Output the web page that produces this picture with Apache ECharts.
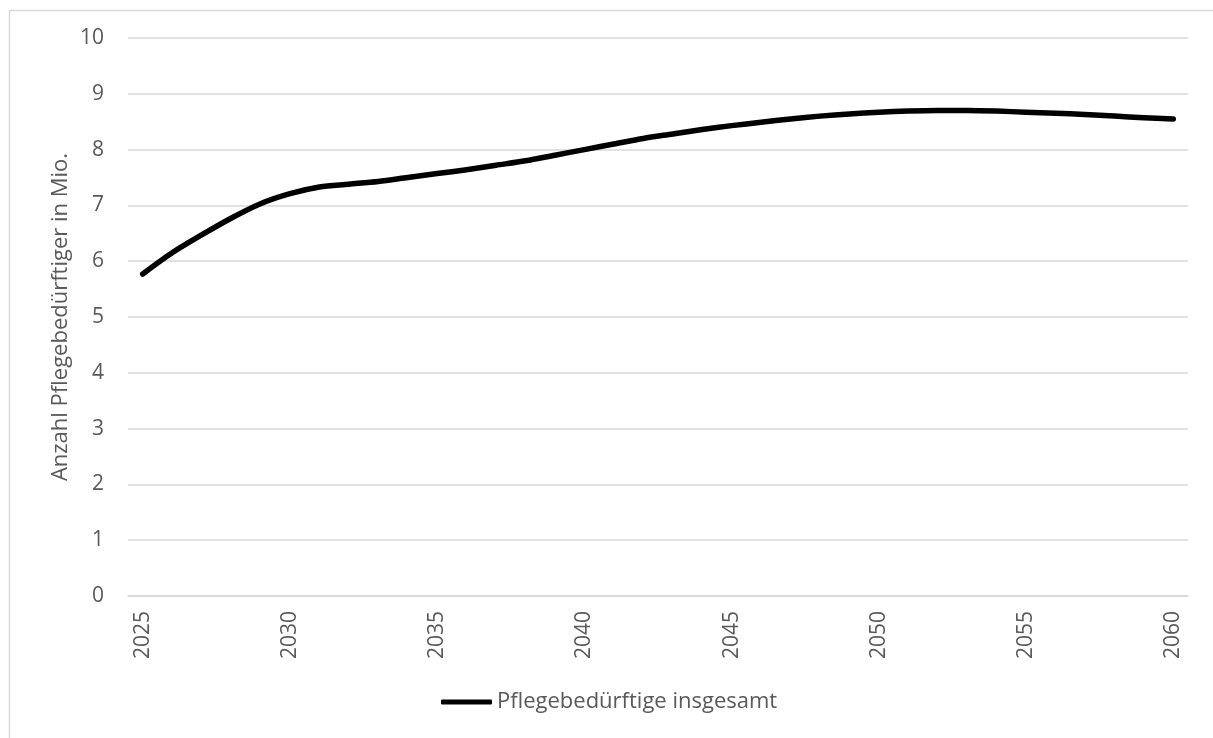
<!DOCTYPE html>
<html>
<head>
<meta charset="utf-8">
<script src="https://cdn.jsdelivr.net/npm/echarts@6/dist/echarts.min.js"></script>
<style>
html,body{margin:0;padding:0;background:#fff;}
#chart{width:1213px;height:738px;}
</style>
</head>
<body>
<div id="chart"></div>
<script>
const years = [];
for (let y = 2025; y <= 2060; y++) years.push(String(y));
const seriesName = 'Pflegebedürftige insgesamt';
const values = [5.77, 6.15, 6.47, 6.77, 7.03, 7.21, 7.33, 7.38, 7.43, 7.50,
  7.57, 7.64, 7.72, 7.80, 7.90, 8.00, 8.10, 8.20, 8.28, 8.36,
  8.43, 8.49, 8.55, 8.60, 8.64, 8.67, 8.69, 8.70, 8.70, 8.69,
  8.67, 8.65, 8.63, 8.60, 8.57, 8.55];
const yTicks = [0, 1, 2, 3, 4, 5, 6, 7, 8, 9, 10];
const yAxisName = 'Anzahl Pflegebedürftiger in Mio.';

const font = '"Open Sans", "Liberation Sans", sans-serif';
const chart = echarts.init(document.getElementById('chart'), null, {renderer: 'canvas'});
chart.setOption({
  animation: false,
  backgroundColor: '#fff',
  graphic: [{
    type: 'rect', left: 7, top: 8, silent: true,
    shape: {width: 1230, height: 760},
    style: {fill: 'none', stroke: '#d9d9d9', lineWidth: 1.5}
  }],
  grid: {left: 128, right: 25, top: 38, bottom: 142, containLabel: false},
  legend: {
    show: true, top: 686, left: 436,
    icon: 'roundRect', itemWidth: 51, itemHeight: 5,
    textStyle: {fontFamily: font, fontSize: 22, color: '#595959'},
    data: [seriesName]
  },
  xAxis: {
    type: 'category', data: years, boundaryGap: true,
    axisLine: {show: true, lineStyle: {color: '#d9d9d9', width: 1.5}},
    axisTick: {show: false},
    axisLabel: {interval: 4, rotate: 90, margin: 15, color: '#595959', fontFamily: font, fontSize: 21}
  },
  yAxis: {
    type: 'value', min: yTicks[0], max: yTicks[yTicks.length - 1], interval: 1,
    name: yAxisName, nameLocation: 'middle', nameGap: 56, nameRotate: 90,
    nameMoveOverlap: false,
    nameTextStyle: {fontFamily: font, fontSize: 22, color: '#595959'},
    axisLine: {show: false}, axisTick: {show: false},
    axisLabel: {margin: 24, color: '#595959', fontFamily: font, fontSize: 21},
    splitLine: {lineStyle: {color: '#d9d9d9', width: 1.5}}
  },
  series: [{
    name: seriesName, type: 'line', data: values, smooth: 0.3,
    symbol: 'none', showSymbol: false,
    lineStyle: {color: '#000', width: 5.5, cap: 'round', join: 'round'},
    itemStyle: {color: '#000'}
  }]
});
</script>
</body>
</html>
